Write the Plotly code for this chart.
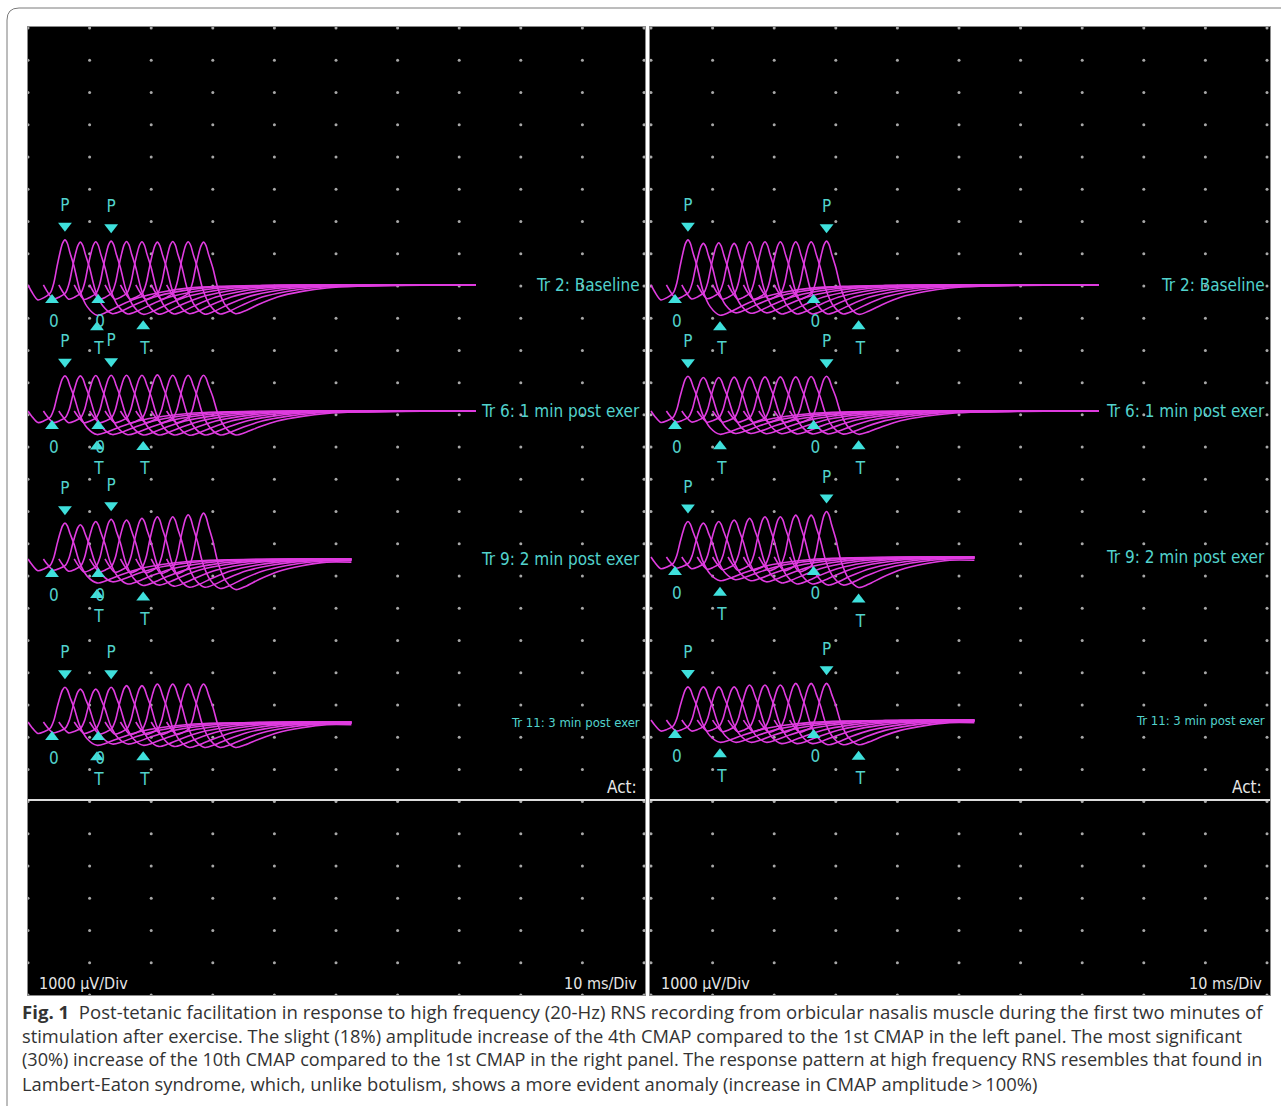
import plotly.graph_objects as go

# ---------------- DATA ----------------
# display shift between the 10 superimposed sweeps of a train (ms)
SWEEP_OFFSET_MS = [0.0, 2.5, 5.0, 7.5, 10.0, 12.5, 15.0, 17.5, 20.0, 22.5]
# CMAP template read from the first sweep (time in ms, amplitude relative to the peak)
CMAP_T_MS = [0.0, 0.6, 1.6, 2.6, 3.6, 4.2, 4.7, 5.2, 5.6, 6.0, 6.4, 6.8, 7.5, 8.4, 9.6, 11.2, 12.8, 15.0, 18.0, 22.0, 26.0, 31.0, 38.0, 45.0]
CMAP_SHAPE = [0.0, -0.15, -0.33, -0.28, -0.18, 0.05, 0.4, 0.72, 0.92, 1.0, 0.92, 0.72, 0.4, -0.11, -0.48, -0.67, -0.6, -0.45, -0.28, -0.15, -0.07, -0.03, -0.01, 0.0]
ONSET_MS = 3.9

TRACE_LABELS = ["Tr 2: Baseline", "Tr 6: 1 min post exer", "Tr 9: 2 min post exer", "Tr 11: 3 min post exer"]
SWEEP_END_MS = [72.7, 72.7, 52.5, 52.5]

# peak amplitude (uV) of each of the 10 CMAPs, left panel
LEFT_TR2_UV = [1400, 1330, 1340, 1360, 1350, 1340, 1330, 1350, 1340, 1330]
LEFT_TR6_UV = [1090, 1090, 1100, 1110, 1110, 1110, 1120, 1110, 1110, 1110]
LEFT_TR9_UV = [1110, 1060, 1160, 1230, 1210, 1260, 1310, 1310, 1370, 1420]
LEFT_TR11_UV = [1080, 1020, 1020, 1080, 1130, 1130, 1180, 1180, 1180, 1180]
# right panel
RIGHT_TR2_UV = [1400, 1290, 1310, 1290, 1340, 1340, 1340, 1340, 1340, 1360]
RIGHT_TR6_UV = [1080, 1040, 1040, 1050, 1050, 1060, 1060, 1060, 1070, 1080]
RIGHT_TR9_UV = [1100, 1050, 1100, 1150, 1200, 1250, 1250, 1300, 1300, 1410]
RIGHT_TR11_UV = [1030, 1030, 1030, 1030, 1090, 1090, 1090, 1140, 1140, 1140]

# which CMAP carries the second set of markers
LEFT_MARKED_SWEEP = 4
RIGHT_MARKED_SWEEP = 10

SENS_LABEL = "1000 \u00b5V/Div"
SWEEP_LABEL = "10 ms/Div"

CAPTION = [
    "<b>Fig. 1</b>  Post-tetanic facilitation in response to high frequency (20-Hz) RNS recording from orbicular nasalis muscle during the first two minutes of",
    "stimulation after exercise. The slight (18%) amplitude increase of the 4th CMAP compared to the 1st CMAP in the left panel. The most significant",
    "(30%) increase of the 10th CMAP compared to the 1st CMAP in the right panel. The response pattern at high frequency RNS resembles that found in",
    "Lambert-Eaton syndrome, which, unlike botulism, shows a more evident anomaly (increase in CMAP amplitude\u2009>\u2009100%)",
]

# ---------------- LAYOUT / STYLE ----------------
W, H = 1287, 1113
PANEL_TOP, PANEL_BOT = 27, 995
LEFT_PX = (28, 645, 28)      # domain start, domain end, x origin (px)
RIGHT_PX = (650, 1270, 651)
PX_PER_MS = 6.16
PX_PER_DIV = 32.23
UV_PER_DIV = 1000.0
UV_PER_PX = UV_PER_DIV / PX_PER_DIV

LEFT_BASELINES_UV = [22030, 18120, 13530, 8470]
RIGHT_BASELINES_UV = [22030, 18120, 13590, 8530]

MAGENTA = "#e03ce0"
CYAN = "#3fe0dc"
CYAN_TXT = "#52d2cc"
DOT = "#a8a8a8"
FONT_SCREEN = "Liberation Sans Narrow, DejaVu Sans Condensed, Arial Narrow, sans-serif"
CAP_Y = [1011, 1035, 1059, 1083]
CAP_SIZE = [18.6, 18.3, 18.1, 18.4]


def px_to_uv(py):
    return (PANEL_BOT - py) * UV_PER_PX


fig = go.Figure()

y_top = (PANEL_BOT - PANEL_TOP) * UV_PER_PX
axes = {}
for i, (d0, d1, org) in enumerate([LEFT_PX, RIGHT_PX]):
    sfx = "" if i == 0 else str(i + 1)
    fig.update_layout(**{
        "xaxis" + sfx: dict(domain=[d0 / W, d1 / W], range=[(d0 - org) / PX_PER_MS, (d1 - org) / PX_PER_MS],
                             showgrid=False, zeroline=False, showticklabels=False, ticks="",
                             showline=True, linecolor="#8a8a8a", linewidth=1, mirror=True, fixedrange=True,
                             anchor="y" + sfx),
        "yaxis" + sfx: dict(domain=[1 - PANEL_BOT / H, 1 - PANEL_TOP / H], range=[0, y_top],
                             showgrid=False, zeroline=False, showticklabels=False, ticks="",
                             showline=True, linecolor="#8a8a8a", linewidth=1, mirror=True, fixedrange=True,
                             anchor="x" + sfx),
    })
    axes[i] = ("x" + sfx, "y" + sfx)

# dot grid (every division)
for i in (0, 1):
    xa, ya = axes[i]
    gx, gy = [], []
    for c in range(11):
        for r in range(31):
            gx.append(c * 10.0)
            gy.append(r * UV_PER_DIV)
    fig.add_trace(go.Scatter(x=gx, y=gy, mode="markers", xaxis=xa, yaxis=ya, hoverinfo="skip",
                             marker=dict(size=3, color=DOT), showlegend=False))

peak_i = CMAP_SHAPE.index(max(CMAP_SHAPE))
trough_i = CMAP_SHAPE.index(min(CMAP_SHAPE))
PEAK_MS = CMAP_T_MS[peak_i]
TROUGH_MS = CMAP_T_MS[trough_i]
TROUGH_REL = CMAP_SHAPE[trough_i]

panels = [
    (axes[0], [LEFT_TR2_UV, LEFT_TR6_UV, LEFT_TR9_UV, LEFT_TR11_UV], LEFT_BASELINES_UV, LEFT_MARKED_SWEEP),
    (axes[1], [RIGHT_TR2_UV, RIGHT_TR6_UV, RIGHT_TR9_UV, RIGHT_TR11_UV], RIGHT_BASELINES_UV, RIGHT_MARKED_SWEEP),
]

for (xa, ya), amps_all, baselines, marked in panels:
    tri_dn_x, tri_dn_y, tri_up_x, tri_up_y = [], [], [], []
    txt_x, txt_y, txt_s = [], [], []
    for k, amps in enumerate(amps_all):
        base = baselines[k]
        end = SWEEP_END_MS[k]
        xs, ys = [], []
        for off, a in zip(SWEEP_OFFSET_MS, amps):
            last = 0.0
            for t, s in zip(CMAP_T_MS, CMAP_SHAPE):
                if off + t <= end:
                    xs.append(off + t)
                    ys.append(base + a * s)
                    last = s
            xs.append(end)
            ys.append(base + a * last)
            xs.append(None)
            ys.append(None)
        fig.add_trace(go.Scatter(x=xs, y=ys, mode="lines", xaxis=xa, yaxis=ya, hoverinfo="skip",
                                 line=dict(color=MAGENTA, width=1.6, shape="spline", smoothing=0.8),
                                 showlegend=False))
        for idx in (0, marked - 1):
            off = SWEEP_OFFSET_MS[idx]
            a = amps[idx]
            # P marker
            pk_y = base + a
            tri_dn_x.append(off + PEAK_MS)
            tri_dn_y.append(pk_y + 14 * UV_PER_PX)
            txt_x.append(off + PEAK_MS)
            txt_y.append(pk_y + 33 * UV_PER_PX)
            txt_s.append("P")
            # O marker
            tri_up_x.append(off + ONSET_MS)
            tri_up_y.append(base - 15 * UV_PER_PX)
            txt_x.append(off + ONSET_MS + 0.3)
            txt_y.append(base - 38 * UV_PER_PX)
            txt_s.append("0")
            # T marker
            tr_y = base + a * TROUGH_REL
            tri_up_x.append(off + TROUGH_MS)
            tri_up_y.append(tr_y - 12 * UV_PER_PX)
            txt_x.append(off + TROUGH_MS + 0.3)
            txt_y.append(tr_y - 35 * UV_PER_PX)
            txt_s.append("T")
    fig.add_trace(go.Scatter(x=tri_dn_x, y=tri_dn_y, mode="markers", xaxis=xa, yaxis=ya, hoverinfo="skip",
                             marker=dict(symbol="triangle-down", size=12, color=CYAN), showlegend=False))
    fig.add_trace(go.Scatter(x=tri_up_x, y=tri_up_y, mode="markers", xaxis=xa, yaxis=ya, hoverinfo="skip",
                             marker=dict(symbol="triangle-up", size=12, color=CYAN), showlegend=False))
    fig.add_trace(go.Scatter(x=txt_x, y=txt_y, mode="text", text=txt_s, xaxis=xa, yaxis=ya, hoverinfo="skip",
                             textfont=dict(family=FONT_SCREEN, size=17, color=CYAN_TXT), showlegend=False))

# horizontal "Act:" separator line and texts
ACT_Y_UV = px_to_uv(800)
shapes = []
annos = []
for i, (d0, d1, org) in enumerate([LEFT_PX, RIGHT_PX]):
    xa, ya = axes[i]
    xr = (d1 - org) / PX_PER_MS
    xl = (d0 - org) / PX_PER_MS
    shapes.append(dict(type="line", xref=xa, yref=ya, x0=xl, x1=xr, y0=ACT_Y_UV, y1=ACT_Y_UV,
                       line=dict(color="#dcdcdc", width=2), layer="above"))
    baselines = LEFT_BASELINES_UV if i == 0 else RIGHT_BASELINES_UV
    for k, lab in enumerate(TRACE_LABELS):
        annos.append(dict(x=xr - 0.5, y=baselines[k], xref=xa, yref=ya, text=lab, showarrow=False,
                          xanchor="right", yanchor="middle",
                          font=dict(family=FONT_SCREEN, size=13 if k == 3 else 17, color=CYAN_TXT)))
    annos.append(dict(x=xr - 1.0, y=px_to_uv(787), xref=xa, yref=ya, text="Act:", showarrow=False,
                      xanchor="right", yanchor="middle", font=dict(family=FONT_SCREEN, size=17, color="#e6e6e6")))
    annos.append(dict(x=xl + 1.5, y=px_to_uv(983), xref=xa, yref=ya, text=SENS_LABEL, showarrow=False,
                      xanchor="left", yanchor="middle", font=dict(family=FONT_SCREEN, size=16, color="#e6e6e6")))
    annos.append(dict(x=xr - 1.0, y=px_to_uv(983), xref=xa, yref=ya, text=SWEEP_LABEL, showarrow=False,
                      xanchor="right", yanchor="middle", font=dict(family=FONT_SCREEN, size=16, color="#e6e6e6")))

# caption
for line, yy, sz in zip(CAPTION, CAP_Y, CAP_SIZE):
    annos.append(dict(x=20 / W, y=1 - yy / H, xref="paper", yref="paper", text=line, showarrow=False,
                      xanchor="left", yanchor="middle",
                      font=dict(family="Open Sans, sans-serif", size=sz, color="#333333")))

# outer frame (rounded top-left corner)
def P(x, y):
    return f"{x / W:.5f},{1 - y / H:.5f}"

frame = f"M {P(7, 1106)} L {P(7, 20)} Q {P(7, 8)} {P(19, 8)} L {P(1281, 8)}"
shapes.append(dict(type="path", xref="paper", yref="paper", path=frame, line=dict(color="#7a7a7a", width=1)))

fig.update_layout(width=W, height=H, margin=dict(l=0, r=0, t=0, b=0), paper_bgcolor="white",
                  plot_bgcolor="black", shapes=shapes, annotations=annos, showlegend=False)

fig.write_html("out.html", config={"displayModeBar": False},
               post_script="document.body.style.margin='0px';document.body.style.overflow='hidden';")
